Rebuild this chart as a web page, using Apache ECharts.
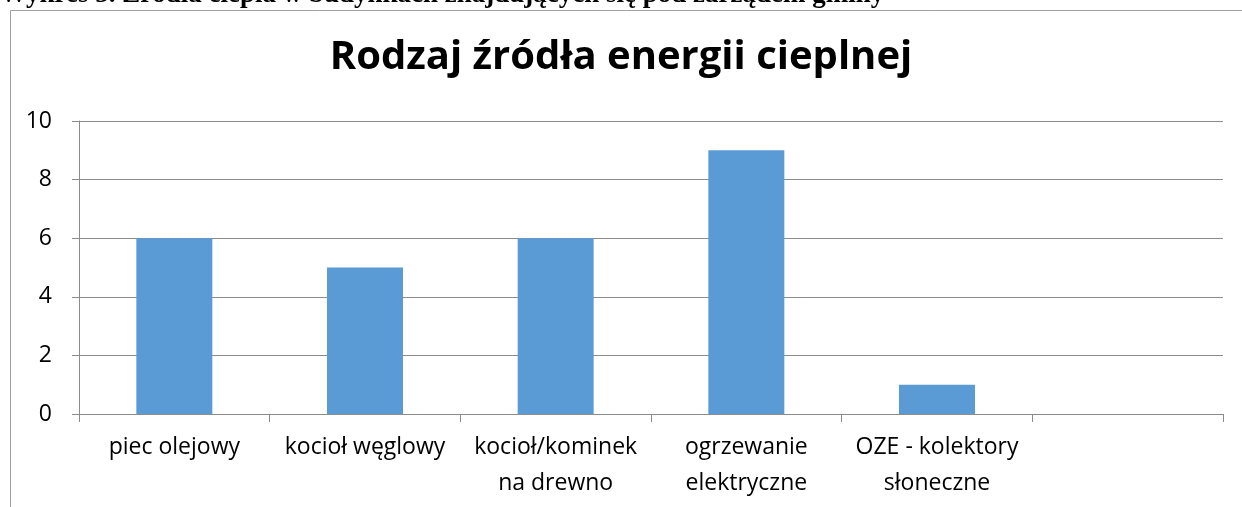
<!DOCTYPE html>
<html>
<head>
<meta charset="utf-8">
<script src="https://cdn.jsdelivr.net/npm/echarts@6/dist/echarts.min.js"></script>
<style>
  html, body { margin: 0; padding: 0; background: #fff; }
  #chart { width: 1242px; height: 507px; }
</style>
</head>
<body>
<div id="chart"></div>
<script>
// kategorie i wartości
const categories = ['piec olejowy', 'kocioł węglowy', 'kocioł/kominek\nna drewno', 'ogrzewanie\nelektryczne', 'OZE - kolektory\nsłoneczne', ''];
const values = [6, 5, 6, 9, 1, null];
const yTicks = [0, 2, 4, 6, 8, 10];

const chart = echarts.init(document.getElementById('chart'));
const labelFont = '"Open Sans", sans-serif';

chart.setOption({
  animation: false,
  title: {
    text: 'Rodzaj źródła energii cieplnej',
    left: 'center',
    top: 33,
    textStyle: { fontFamily: labelFont, fontSize: 40, fontWeight: 'bold', color: '#000' }
  },
  graphic: [
    {
      // podpis wykresu z dokumentu (ucięty u góry)
      type: 'text',
      x: 0,
      y: 9,
      style: {
        text: 'Wykres 5. Źródła ciepła w budynkach znajdujących się pod zarządem gminy',
        font: 'bold 27px "Liberation Serif", serif',
        verticalAlign: 'bottom',
        fill: '#000'
      }
    },
    {
      type: 'rect',
      shape: { x: 10.5, y: 10.5, width: 1240, height: 520 },
      style: { fill: 'none', stroke: '#a0a0a0', lineWidth: 1 }
    }
  ],
  grid: { left: 79, right: 19, top: 121, bottom: 93 },
  xAxis: {
    type: 'category',
    data: categories,
    boundaryGap: true,
    axisLine: { lineStyle: { color: '#8c8c8c' } },
    axisTick: { show: true, length: 8, lineStyle: { color: '#8c8c8c' } },
    axisLabel: {
      interval: 0,
      margin: 15,
      color: '#000',
      fontFamily: labelFont,
      fontSize: 23,
      lineHeight: 36
    }
  },
  yAxis: {
    type: 'value',
    min: 0,
    max: 10,
    interval: 2,
    axisLine: { show: true, lineStyle: { color: '#8c8c8c' } },
    axisTick: { show: true, length: 7, lineStyle: { color: '#8c8c8c' } },
    splitLine: { lineStyle: { color: '#8c8c8c' } },
    axisLabel: {
      margin: 27,
      color: '#000',
      fontFamily: labelFont,
      fontSize: 23,
      formatter: v => yTicks.includes(v) ? String(v) : ''
    }
  },
  series: [
    {
      type: 'bar',
      data: values,
      barWidth: 76,
      itemStyle: { color: '#5b9bd5' }
    }
  ]
});
</script>
</body>
</html>
